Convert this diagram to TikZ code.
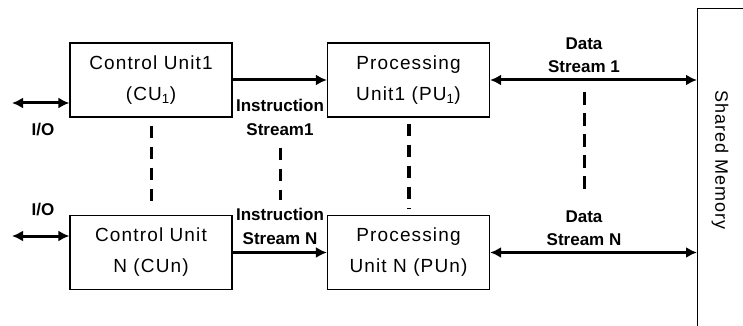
\documentclass[tikz,border=0pt]{standalone}
\usepackage{fontspec}
\setmainfont{Liberation Sans}
\newfontfamily\boxfont[LetterSpace=6]{Liberation Sans}
\usetikzlibrary{arrows.meta}
\begin{document}
\begin{tikzpicture}[x=1pt,y=-1pt,
  unitbox/.style={draw=black, line width=1.2pt, minimum width=162pt, minimum height=74pt,
    align=center, inner sep=0pt, font=\boxfont\fontsize{19}{31}\selectfont},
  lbl/.style={align=center, inner sep=0pt, font=\bfseries\fontsize{17}{23.5}\selectfont},
  flow/.style={line width=3pt, -{Latex[length=11pt,width=11pt]}},
  bflow/.style={line width=3pt, {Latex[length=11pt,width=11pt]}-{Latex[length=11pt,width=11pt]}},
  dashv/.style={line width=3pt, dash pattern=on 12pt off 9pt}
]
\useasboundingbox (0,0) rectangle (743,326);
\clip (0,0) rectangle (743,326);
% boxes
\node[unitbox] (cu1) at (151,80) {Control Unit1\\(CU\textsubscript{1})};
\node[unitbox] (pu1) at (408.5,80) {Processing\\Unit1 (PU\textsubscript{1})};
\node[unitbox] (cun) at (151,252.5) {Control Unit\\N (CUn)};
\node[unitbox] (pun) at (408.5,252.5) {Processing\\Unit N (PUn)};
\node[draw=black, line width=1.2pt, anchor=north west, minimum width=80pt, minimum height=340pt, inner sep=0pt] (mem) at (697,8) {};
\node[rotate=-90, inner sep=0pt, font=\boxfont\fontsize{18}{22}\selectfont] (memlbl) at (720,160) {Shared Memory};
% labels
\node[lbl] (io1lbl) at (43,130) {I/O};
\node[lbl] (ionlbl) at (43,210) {I/O};
\node[lbl] (ins1) at (280,117.5) {Instruction\\Stream1};
\node[lbl] (insn) at (280,226.5) {Instruction\\Stream N};
\node[lbl] (ds1) at (584,55) {Data\\Stream 1};
\node[lbl] (dsn) at (584,228) {Data\\Stream N};
% free ends
\coordinate (io1) at (12,103);
\coordinate (ion) at (12,236);
% arrows
\draw[bflow] (io1) -- (cu1.west |- io1);
\draw[bflow] (ion) -- (cun.west |- ion);
\draw[flow] (cu1.east) -- (pu1.west);
\draw[flow] (cun.east) -- (pun.west);
\draw[bflow] (pu1.east) -- (mem.west |- pu1.east);
\draw[bflow] (pun.east) -- (mem.west |- pun.east);
% dashed links
\draw[dashv] ([yshift=-8pt]cu1.south) -- ([yshift=7pt]cun.north);
\draw[dashv, line width=4pt] ([yshift=-6pt]pu1.south) -- ([yshift=7pt]pun.north);
\draw[dashv] ([yshift=-12pt]ins1.south) -- ([yshift=8pt]insn.north);
\draw[dashv, dash pattern=on 13pt off 8pt] ([yshift=-19pt]ds1.south) -- ([yshift=17pt]dsn.north);
\end{tikzpicture}
\end{document}
